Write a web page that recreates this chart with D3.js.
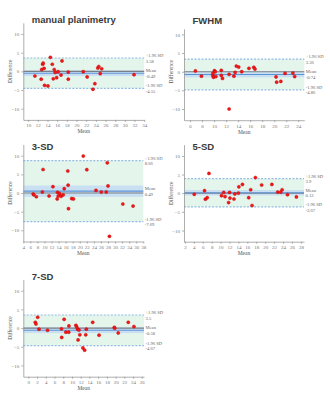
<!DOCTYPE html>
<html>
<head>
<meta charset="utf-8">
<script src="https://cdn.jsdelivr.net/npm/d3@7"></script>
<style>
  body { margin: 0; background: #fff; }
  svg { display: block; }
  .tick text { fill: #777; font-family: "Liberation Serif", serif; font-size: 5px; }
  .axis path, .axis line { stroke: #999; stroke-width: 0.8; }
</style>
</head>
<body>
<svg id="chart" width="330" height="400"></svg>
<script>
// panel names
const titles = ['manual planimetry', 'FWHM', '3-SD', '5-SD', '7-SD']

// mean of the two methods (x) and their difference (y), one pair of arrays per panel
const manualX = [11.4, 12.7, 12.8, 13.0, 13.1, 13.3, 13.4, 14.1, 14.6, 15.0, 15.2, 15.4, 15.6, 15.9, 16.2, 16.8, 17.0, 18.3, 18.3, 21.4, 22.2, 23.4, 23.8, 24.4, 24.6, 24.9, 25.2, 31.9]
const manualY = [-1.25, -2.1, 0.5, 1.9, 2.2, 0.8, -3.75, -3.9, 3.75, 1.9, -2.0, 0.5, -0.3, -1.7, -0.1, -1.0, 2.8, -0.2, -2.1, -0.1, -1.5, -4.8, -3.3, 0.9, 1.3, -0.6, 0.7, -0.9]

const fwhmX = [6.9, 7.9, 9.8, 9.8, 9.9, 10.06, 10.2, 10.3, 11.2, 11.2, 11.4, 12.5, 12.5, 13.3, 13.5, 13.7, 14.1, 14.6, 15.8, 16.6, 16.8, 20.3, 20.4, 21.1, 21.8, 23.1, 23.4]
const fwhmY = [0.2, -1.2, -1.0, -0.45, -1.5, 0.27, 0, -1.3, 0.36, -1.0, -1.8, -0.7, -10.0, -1.2, -0.2, 1.5, 1.25, 0, 0.9, 1.2, 0.7, -1.4, -2.8, -2.6, -0.45, -0.36, -1.3]

const sd3X = [6.8, 7.0, 7.7, 9.4, 9.6, 11.3, 12.4, 13.6, 13.7, 13.9, 14.3, 14.7, 15.3, 15.6, 16.6, 16.7, 16.8, 17.7, 18.2, 21.0, 22.0, 24.6, 26.1, 27.5, 27.8, 28.0, 28.4, 32.2, 35.1]
const sd3Y = [-0.27, -0.5, -1.0, 0.27, 6.3, -0.8, 1.7, -1.6, 0.18, -0.8, -0.18, -0.9, -0.5, 1.16, 5.9, 2.1, -4.2, -1.5, -1.6, 9.9, 6.25, 0.7, 0.27, 0.27, 8.1, 1.9, -11.6, -2.95, -3.5]

const sd5X = [4.1, 6.4, 6.6, 7.0, 7.4, 10.2, 10.7, 11.0, 11.8, 12.0, 12.1, 13.0, 13.2, 14.0, 14.1, 14.9, 16.3, 16.75, 17.05, 17.8, 19.2, 21.5, 22.8, 23.5, 23.8, 25.0, 27.0]
const sd5Y = [-0.3, 0.67, -1.6, -1.2, 5.3, -0.67, 0.2, -0.9, -2.5, 0.2, -1.3, -1.55, -0.2, 0.04, 1.7, 2.35, -1.2, 0.93, -3.3, 4.2, 2.2, 2.35, 0.3, 0.3, 0.93, -0.4, -1.0]

const sd7X = [1.6, 1.76, 2.14, 2.45, 4.4, 7.6, 7.65, 8.2, 8.6, 9.25, 9.3, 10.9, 11.1, 11.3, 11.4, 11.6, 11.8, 12.5, 12.9, 13.15, 13.3, 14.75, 16.2, 19.7, 19.8, 20.6, 22.9, 24.2]
const sd7Y = [1.55, 1.1, 2.9, -0.3, -0.58, -0.2, -2.5, 2.35, -1.1, -1.1, 0.58, 0.75, 0.3, -0.3, -3.15, -0.5, -1.8, -5.3, -5.9, -1.8, -0.3, 1.55, -1.9, 0.2, -0.04, -1.3, 1.55, 0.4]

// bias and limits of agreement, with the labels printed on the right
const upperLoa = [3.58, 3.36, 8.66, 3.9, 3.5]
const meanBias = [-0.49, -0.74, 0.49, 0.12, -0.58]
const lowerLoa = [-4.55, -4.86, -7.69, -3.67, -4.67]
const upperText = ['3.58', '3.36', '8.66', '3.9', '3.5']
const meanText = ['-0.49', '-0.74', '0.49', '0.12', '-0.58']
const lowerText = ['-4.55', '-4.86', '-7.69', '-3.67', '-4.67']
// 95% CI of the bias (half width)
const biasCI = [0.77, 0.79, 1.52, 0.73, 0.77]

const xDomains = [[9, 34], [5, 25], [4, 38], [1.8, 28.7], [-1.15, 26.5]]
const yDomains = [[-13, 13], [-13, 11.5], [-13, 13], [-13, 13], [-13, 13]]
const xTicks = [d3.range(10, 35, 2), d3.range(6, 25, 2), d3.range(4, 39, 2), d3.range(2, 29, 2), d3.range(0, 27, 2)]
const yTicks = [-10, -5, 0, 5, 10]

const pointsX = [manualX, fwhmX, sd3X, sd5X, sd7X]
const pointsY = [manualY, fwhmY, sd3Y, sd5Y, sd7Y]

// layout of every panel: plot box and title baseline
const layout = [
  {left: 23.3, right: 144.2, top: 22.8, bottom: 119.9, titleY: 23},
  {left: 184, right: 304.3, top: 28.8, bottom: 120.2, titleY: 24},
  {left: 23.3, right: 143.3, top: 144.5, bottom: 241.5, titleY: 150},
  {left: 184, right: 304, top: 144.7, bottom: 241.7, titleY: 150},
  {left: 23.3, right: 144, top: 279.5, bottom: 376.7, titleY: 280}
]

const svg = d3.select('#chart')

titles.forEach((title, i) => {
  const L = layout[i]
  const x = d3.scaleLinear().domain(xDomains[i]).range([L.left, L.right])
  const y = d3.scaleLinear().domain(yDomains[i]).range([L.bottom, L.top])
  const g = svg.append('g').attr('class', 'panel')

  // limits of agreement band
  g.append('rect')
    .attr('x', L.left).attr('width', L.right - L.left)
    .attr('y', y(upperLoa[i])).attr('height', y(lowerLoa[i]) - y(upperLoa[i]))
    .attr('fill', '#e4f5ec')

  // CI of the bias
  g.append('rect')
    .attr('x', L.left).attr('width', L.right - L.left)
    .attr('y', y(meanBias[i] + biasCI[i])).attr('height', y(meanBias[i] - biasCI[i]) - y(meanBias[i] + biasCI[i]))
    .attr('fill', '#c9e0f2')

  // dashed limits
  g.selectAll('line.loa').data([upperLoa[i], lowerLoa[i]]).join('line')
    .attr('class', 'loa')
    .attr('x1', L.left).attr('x2', L.right)
    .attr('y1', d => y(d)).attr('y2', d => y(d))
    .attr('stroke', '#92bce4').attr('stroke-width', 1.2)
    .attr('stroke-dasharray', '2,1.5')

  // zero line and bias line
  g.append('line')
    .attr('x1', L.left).attr('x2', L.right)
    .attr('y1', y(0)).attr('y2', y(0))
    .attr('stroke', '#7a7f86').attr('stroke-width', 1.1)
  g.append('line')
    .attr('x1', L.left).attr('x2', L.right)
    .attr('y1', y(meanBias[i])).attr('y2', y(meanBias[i]))
    .attr('stroke', '#5c93d6').attr('stroke-width', 1.1)

  // axes
  g.append('g').attr('class', 'axis')
    .attr('transform', `translate(0,${L.bottom})`)
    .call(d3.axisBottom(x).tickValues(xTicks[i]).tickSize(2).tickPadding(2).tickSizeOuter(0))
  g.append('g').attr('class', 'axis')
    .attr('transform', `translate(${L.left},0)`)
    .call(d3.axisLeft(y).tickValues(yTicks).tickSize(2).tickPadding(2).tickSizeOuter(0))

  // axis titles
  g.append('text')
    .attr('x', (L.left + L.right) / 2).attr('y', L.bottom + 13.5)
    .attr('text-anchor', 'middle')
    .style('font-family', '"Liberation Serif", serif').style('font-size', '5.5px')
    .attr('fill', '#555')
    .text('Mean')
  g.append('text')
    .attr('transform', `translate(${L.left - 11},${y(0)}) rotate(-90)`)
    .attr('text-anchor', 'middle')
    .style('font-family', '"Liberation Serif", serif').style('font-size', '5.5px')
    .attr('fill', '#555')
    .text('Difference')

  // right side labels
  const labels = [
    {t: '+1.96 SD', v: upperLoa[i], dy: -2.6},
    {t: upperText[i], v: upperLoa[i], dy: 3},
    {t: 'Mean', v: meanBias[i], dy: -2.6},
    {t: meanText[i], v: meanBias[i], dy: 3},
    {t: '-1.96 SD', v: lowerLoa[i], dy: -2.6},
    {t: lowerText[i], v: lowerLoa[i], dy: 3}
  ]
  g.selectAll('text.side').data(labels).join('text')
    .attr('class', 'side')
    .attr('x', L.right + 1.5)
    .attr('y', d => y(d.v) + d.dy)
    .attr('dy', '0.35em')
    .style('font-family', '"Liberation Serif", serif').style('font-size', '4.6px')
    .attr('fill', '#666')
    .text(d => d.t)

  // points
  g.selectAll('circle.pt').data(pointsX[i].map((v, k) => [v, pointsY[i][k]])).join('circle')
    .attr('class', 'pt')
    .attr('cx', d => x(d[0])).attr('cy', d => y(d[1]))
    .attr('r', 1.6)
    .attr('fill', '#f01818').attr('stroke', '#c40000').attr('stroke-width', 0.4)

  // title
  g.append('text')
    .attr('x', L.left + 8.5).attr('y', L.titleY)
    .style('font-family', '"Liberation Sans", Arial, sans-serif').style('font-size', '9.5px')
    .style('font-weight', '600')
    .attr('fill', '#3a3a3a')
    .text(title)
})
</script>
</body>
</html>
